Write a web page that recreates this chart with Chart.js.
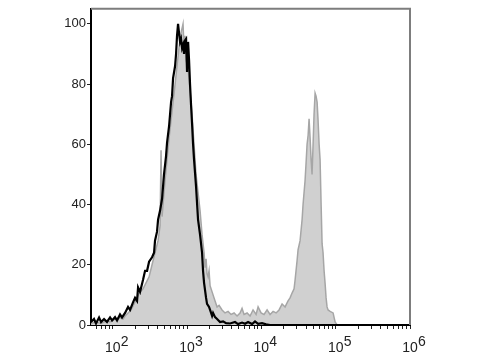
<!DOCTYPE html>
<html>
<head>
<meta charset="utf-8">
<script src="https://cdn.jsdelivr.net/npm/chart.js@4"></script>
<style>
  body { margin: 0; background: #fff; }
  #wrap { width: 480px; height: 360px; }
</style>
</head>
<body>
<div id="wrap"><canvas id="chart" width="480" height="360"></canvas></div>
<script>
// histogram values, x given as log10 of intensity
const blackLog = [1.708, 1.748, 1.775, 1.816, 1.843, 1.883, 1.923, 1.964, 1.991, 2.031, 2.058, 2.098, 2.125, 2.166, 2.206, 2.233, 2.273, 2.300, 2.327, 2.341, 2.368, 2.408, 2.435, 2.462, 2.489, 2.529, 2.556, 2.569, 2.596, 2.610, 2.637, 2.664, 2.690, 2.717, 2.731, 2.758, 2.785, 2.798, 2.812, 2.839, 2.852, 2.865, 2.879, 2.892, 2.906, 2.919, 2.933, 2.946, 2.960, 2.973, 2.987, 3.000, 3.014, 3.027, 3.040, 3.054, 3.067, 3.081, 3.094, 3.121, 3.148, 3.175, 3.202, 3.215, 3.229, 3.256, 3.269, 3.296, 3.310, 3.337, 3.350, 3.377, 3.404, 3.444, 3.485, 3.525, 3.579, 3.646, 3.686, 3.740, 3.781, 3.821, 3.875, 3.915, 3.956, 4.009, 4.063, 4.117, 6.0];
const blackCount = [1, 2, 0.5, 2.5, 1, 2, 1, 2.5, 1.5, 2.6, 1.5, 3.5, 2.5, 4, 6, 5, 7.5, 9, 8, 12.5, 11, 15, 18, 18, 21, 22.5, 24, 28, 31, 35, 38, 42, 50, 56, 60.6, 66, 74, 76, 82, 86, 90, 96, 100, 97, 94, 95, 92, 93, 90, 94.5, 95, 84, 94, 88, 80, 73, 67, 60, 55, 46, 35, 30, 24, 18, 14, 9, 7, 6, 5, 3, 4, 2.6, 2, 1, 1.2, 0.6, 0.5, 1, 0.3, 0.8, 0.4, 1, 0.3, 1.2, 0.4, 0.6, 0.2, 0, 0];

const grayLog = [1.708, 1.775, 1.843, 1.923, 1.964, 2.031, 2.098, 2.139, 2.166, 2.206, 2.246, 2.287, 2.327, 2.368, 2.408, 2.448, 2.489, 2.529, 2.569, 2.610, 2.637, 2.650, 2.664, 2.677, 2.704, 2.731, 2.758, 2.785, 2.812, 2.839, 2.865, 2.892, 2.919, 2.946, 2.960, 2.973, 2.987, 3.014, 3.040, 3.067, 3.094, 3.121, 3.148, 3.175, 3.202, 3.229, 3.242, 3.256, 3.269, 3.283, 3.296, 3.310, 3.337, 3.350, 3.377, 3.404, 3.431, 3.471, 3.511, 3.552, 3.592, 3.633, 3.673, 3.713, 3.740, 3.767, 3.808, 3.848, 3.888, 3.929, 3.956, 3.996, 4.036, 4.077, 4.117, 4.158, 4.198, 4.238, 4.279, 4.319, 4.359, 4.386, 4.413, 4.440, 4.454, 4.481, 4.494, 4.521, 4.548, 4.561, 4.588, 4.602, 4.615, 4.629, 4.642, 4.656, 4.669, 4.682, 4.696, 4.709, 4.723, 4.736, 4.750, 4.763, 4.777, 4.790, 4.804, 4.817, 4.830, 4.844, 4.857, 4.871, 4.884, 4.898, 4.925, 4.965, 4.992, 5.019, 6.0];
const grayCount = [0.5, 1, 0.5, 1.5, 1, 2, 2.5, 2, 3, 4, 5, 7, 9, 11, 12, 14, 16, 20, 24, 28, 33, 58, 36, 40, 48, 55, 62, 68, 74, 80, 86, 92, 97, 100, 92, 96, 88, 85, 78, 70, 60, 50, 44, 38, 30, 24, 19, 22, 17, 16, 18, 13, 11, 10, 8, 6, 6.5, 5, 4, 4.5, 3.5, 4, 3, 4, 5.5, 3.5, 4, 3, 5, 3.5, 6, 4, 3.5, 5, 3.5, 4.5, 4, 5, 7, 6, 8, 9, 10.6, 12, 15, 21.5, 25, 28, 35, 40, 48, 54, 60, 63, 68.5, 62, 55, 50, 60, 70, 77, 76, 74, 68, 60, 55, 40, 27, 24, 18, 14, 9, 6, 5, 4.5, 4, 1, 0, 0];

const yTicks = [0, 20, 40, 60, 80, 100];
const decadeExps = [2, 3, 4, 5, 6];

const toPoints = (logs, counts) => logs.map((d, i) => ({ x: Math.pow(10, d), y: counts[i] }));

// grey frame on top/right, and the exponent beside each "10" label
const framePlugin = {
  id: 'frame',
  afterDraw(chart) {
    const { ctx, chartArea: a, scales } = chart;
    ctx.save();
    ctx.strokeStyle = '#7d7d7d';
    ctx.lineWidth = 2;
    ctx.beginPath();
    ctx.moveTo(a.left, a.top);
    ctx.lineTo(a.right, a.top);
    ctx.lineTo(a.right, a.bottom);
    ctx.stroke();

    ctx.fillStyle = '#222';
    ctx.font = '14px "Liberation Sans", Arial, sans-serif';
    ctx.textAlign = 'left';
    ctx.textBaseline = 'alphabetic';
    decadeExps.forEach(e => {
      const x = scales.x.getPixelForValue(Math.pow(10, e));
      ctx.fillText(String(e), x + 8, 346);
    });
    ctx.restore();
  }
};

const ctx = document.getElementById('chart').getContext('2d');
const chart = new Chart(ctx, {
  type: 'line',
  data: {
    datasets: [{
      label: 'control',
      data: toPoints(blackLog, blackCount),
      borderColor: '#000',
      borderWidth: 2.2,
      fill: false,
      pointRadius: 0,
      tension: 0,
      order: 0
    }, {
      label: 'sample',
      data: toPoints(grayLog, grayCount),
      borderColor: '#a6a6a6',
      backgroundColor: '#d0d0d0',
      borderWidth: 1.5,
      fill: 'origin',
      pointRadius: 0,
      tension: 0,
      order: 1
    }]
  },
  options: {
    responsive: false,
    animation: false,
    layout: { padding: { top: 8, right: 70, left: 0, bottom: 0 } },
    plugins: { legend: { display: false }, tooltip: { enabled: false } },
    scales: {
      x: {
        type: 'logarithmic',
        min: 51,
        max: 1e6,
        afterBuildTicks(scale) {
          const t = [];
          for (let n = 1; n <= 5; n++) {
            for (let k = 1; k <= 9; k++) {
              const v = k * Math.pow(10, n);
              if (v >= 51) t.push({ value: v, major: k === 1 });
            }
          }
          t.push({ value: 1e6, major: true });
          scale.ticks = t;
        },
        afterFit(scale) { scale.height = 35; },
        border: { display: true, color: '#000', width: 2 },
        grid: { drawOnChartArea: false, tickLength: 4, tickColor: '#222' },
        ticks: {
          autoSkip: false,
          maxRotation: 0,
          padding: 11,
          color: '#222',
          font: { family: '"Liberation Sans", Arial, sans-serif', size: 14 },
          callback: (v) => decadeExps.some(e => Math.abs(Math.log10(v) - e) < 1e-6) ? '10' : ''
        }
      },
      y: {
        min: 0,
        max: 105,
        afterBuildTicks(scale) { scale.ticks = yTicks.map(v => ({ value: v })); },
        afterFit(scale) { scale.width = 91; },
        border: { display: true, color: '#000', width: 2 },
        grid: { drawOnChartArea: false, tickLength: 4, tickColor: '#222' },
        ticks: {
          padding: 1,
          color: '#222',
          font: { family: '"Liberation Sans", Arial, sans-serif', size: 13 }
        }
      }
    }
  },
  plugins: [framePlugin]
});
</script>
</body>
</html>
